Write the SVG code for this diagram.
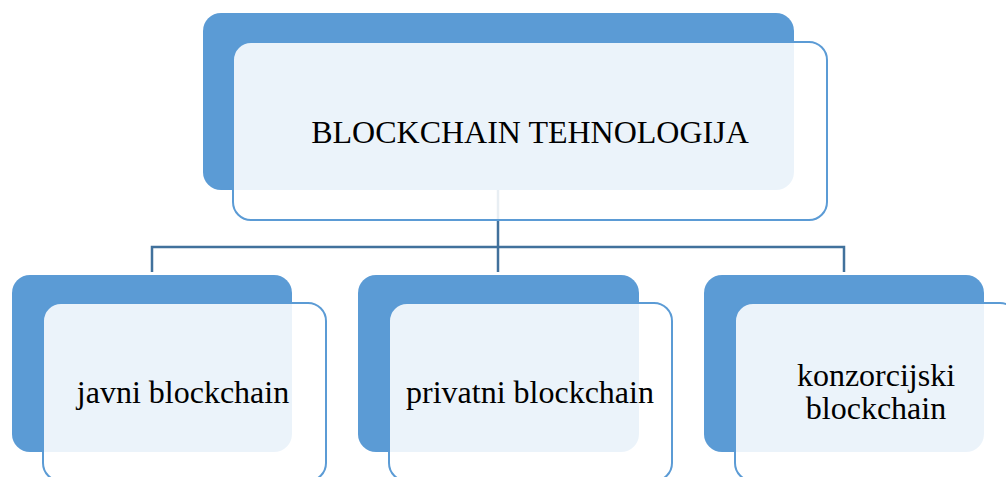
<svg xmlns="http://www.w3.org/2000/svg" width="1006" height="477" viewBox="0 0 1006 477">
<style>
.back{fill:#5b9bd5}
.front{fill:#ffffff;fill-opacity:0.88;stroke:#5b9bd5;stroke-width:2}
.lbl{font-family:"Liberation Serif","Times New Roman",serif;font-size:32px;fill:#000;text-anchor:middle}
.conn{fill:none;stroke:#41719c;stroke-width:2.5}
</style>
<rect width="1006" height="477" fill="#ffffff"/>
<g id="connectors">
<path class="conn" d="M498 190 V272"/>
<path class="conn" d="M152 272 V247 H844 V272"/>
</g>
<g id="node-root">
<rect class="back" x="203" y="13" width="591" height="177" rx="18"/>
<rect class="front" x="233" y="42" width="594" height="178" rx="18"/>
<text class="lbl" x="530" y="142.5">BLOCKCHAIN TEHNOLOGIJA</text>
</g>
<g id="node-javni">
<rect class="back" x="12" y="275" width="280" height="177" rx="18"/>
<rect class="front" x="43" y="303" width="283" height="178" rx="18"/>
<text class="lbl" x="183" y="403">javni blockchain</text>
</g>
<g id="node-privatni">
<rect class="back" x="358" y="275" width="281" height="177" rx="18"/>
<rect class="front" x="389" y="303" width="283" height="178" rx="18"/>
<text class="lbl" x="530" y="403">privatni blockchain</text>
</g>
<g id="node-konzorcijski">
<rect class="back" x="704" y="275" width="280" height="177" rx="18"/>
<rect class="front" x="735" y="303" width="283" height="178" rx="18"/>
<text class="lbl" x="876" y="386">konzorcijski</text>
<text class="lbl" x="876" y="419">blockchain</text>
</g>
</svg>
